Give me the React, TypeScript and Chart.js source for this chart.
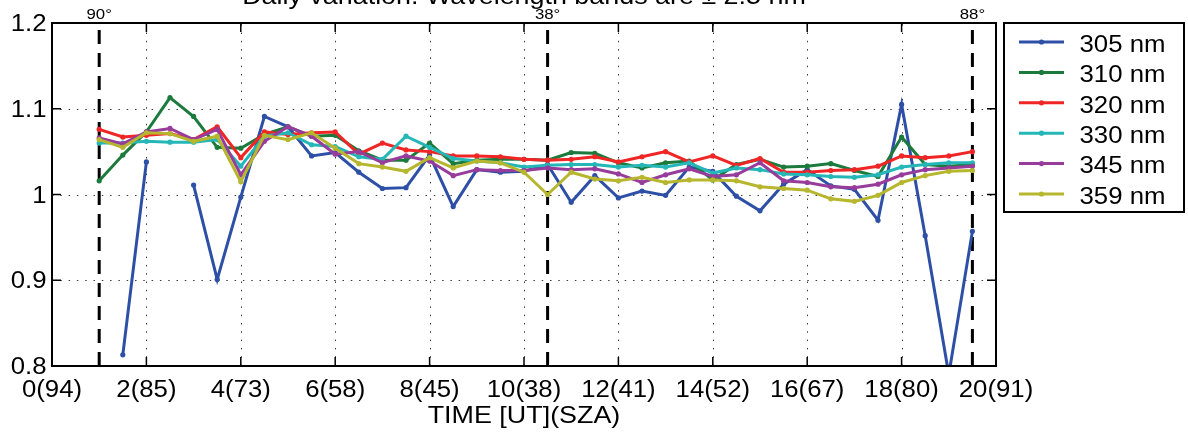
import React, { useEffect, useRef } from 'react';
import { Chart, registerables } from 'chart.js';

Chart.register(...registerables);

// ---------- data ----------
const hours = [
  1, 1.5, 2, 2.5, 3, 3.5, 4, 4.5, 5, 5.5, 6, 6.5, 7, 7.5, 8, 8.5, 9, 9.5, 10,
  10.5, 11, 11.5, 12, 12.5, 13, 13.5, 14, 14.5, 15, 15.5, 16, 16.5, 17, 17.5,
  18, 18.5, 19, 19.5,
];

const nm305 = [
  null, 0.813, 1.038, null, 1.011, 0.901, 0.997, 1.091, 1.079, 1.045, 1.049,
  1.026, 1.007, 1.008, 1.046, 0.986, 1.029, 1.026, 1.027, 1.035, 0.991, 1.022,
  0.996, 1.004, 0.999, 1.032, 1.027, 0.998, 0.981, 1.012, 1.029, 1.01, 1.006,
  0.97, 1.105, 0.952, 0.79, 0.957,
];
const nm310 = [
  1.016, 1.046, 1.073, 1.113, 1.091, 1.055, 1.054, 1.07, 1.079, 1.068, 1.069,
  1.051, 1.04, 1.04, 1.06, 1.036, 1.04, 1.041, 1.041, 1.04, 1.049, 1.048,
  1.037, 1.031, 1.037, 1.039, 1.017, 1.035, 1.041, 1.032, 1.033, 1.036, 1.028,
  1.021, 1.067, 1.035, 1.033, 1.035,
];
const nm320 = [
  1.076, 1.067, 1.069, 1.071, 1.064, 1.079, 1.043, 1.073, 1.07, 1.072, 1.073,
  1.047, 1.06, 1.052, 1.05, 1.045, 1.045, 1.044, 1.041, 1.04, 1.041, 1.044,
  1.038, 1.044, 1.05, 1.038, 1.045, 1.034, 1.042, 1.026, 1.026, 1.028, 1.029,
  1.033, 1.045, 1.043, 1.045, 1.05,
];
const nm330 = [
  1.06, 1.06, 1.062, 1.061, 1.061, 1.064, 1.033, 1.068, 1.072, 1.058, 1.056,
  1.044, 1.041, 1.068, 1.055, 1.042, 1.039, 1.037, 1.032, 1.034, 1.035, 1.035,
  1.032, 1.034, 1.032, 1.037, 1.025, 1.031, 1.029, 1.024, 1.023, 1.021, 1.02,
  1.023, 1.032, 1.035, 1.037, 1.037,
];
const nm345 = [
  1.066, 1.059, 1.073, 1.077, 1.064, 1.076, 1.023, 1.062, 1.079, 1.068, 1.047,
  1.05, 1.037, 1.045, 1.039, 1.022, 1.029, 1.028, 1.028, 1.031, 1.029, 1.03,
  1.024, 1.014, 1.023, 1.03, 1.021, 1.023, 1.037, 1.016, 1.014, 1.009, 1.008,
  1.012, 1.023, 1.029, 1.031, 1.033,
];
const nm359 = [
  1.064, 1.055, 1.072, 1.071, 1.062, 1.068, 1.015, 1.069, 1.064, 1.072, 1.054,
  1.036, 1.032, 1.027, 1.043, 1.031, 1.039, 1.037, 1.026, 1.0, 1.026, 1.018,
  1.016, 1.02, 1.014, 1.017, 1.017, 1.016, 1.009, 1.007, 1.005, 0.995, 0.992,
  0.999, 1.014, 1.022, 1.027, 1.028,
];

const seriesLabels = ['305 nm', '310 nm', '320 nm', '330 nm', '345 nm', '359 nm'];
const seriesValues = [nm305, nm310, nm320, nm330, nm345, nm359];
const seriesColors = ['#2d4fa6', '#1b7a3c', '#f02626', '#25b7b7', '#983c9c', '#b7b62f'];

const xTickValues = [0, 2, 4, 6, 8, 10, 12, 14, 16, 18, 20];
const xTickLabels = [
  '0(94)', '2(85)', '4(73)', '6(58)', '8(45)', '10(38)', '12(41)', '14(52)',
  '16(67)', '18(80)', '20(91)',
];
const yTickValues = [0.8, 0.9, 1.0, 1.1, 1.2];
const yTickLabels = ['0.8', '0.9', '1', '1.1', '1.2'];

const szaLineHours = [1, 10.5, 19.5];
const szaLineLabels = ['90°', '38°', '88°'];

const titleText = 'Daily variation. Wavelength bands are \u00b1 2.5 nm';
const xAxisTitle = 'TIME [UT](SZA)';

// ---------- drawing helpers ----------
const FONT = '"Liberation Sans", Arial, Helvetica, sans-serif';
const SX = 1.12;

function drawText(
  ctx: CanvasRenderingContext2D,
  s: string,
  x: number,
  y: number,
  size: number,
  align: CanvasTextAlign,
) {
  ctx.save();
  ctx.translate(x, y);
  ctx.scale(SX, 1);
  ctx.font = `${size}px ${FONT}`;
  ctx.textAlign = align;
  ctx.textBaseline = 'alphabetic';
  ctx.fillStyle = '#000';
  ctx.fillText(s, 0, 0);
  ctx.restore();
}

const decorPlugin = {
  id: 'decor',
  beforeDatasetsDraw(chart: any) {
    const { ctx, chartArea: a, scales } = chart;
    const xs = scales.x;
    const ys = scales.y;
    ctx.save();
    // dotted grid
    ctx.strokeStyle = '#3a3a3a';
    ctx.lineWidth = 1;
    ctx.setLineDash([1.5, 6.8]);
    xTickValues.forEach((v) => {
      if (v === xs.min || v === xs.max) return;
      const px = Math.round(xs.getPixelForValue(v)) + 0.5;
      ctx.beginPath();
      ctx.moveTo(px, a.bottom);
      ctx.lineTo(px, a.top);
      ctx.stroke();
    });
    yTickValues.forEach((v) => {
      if (Math.abs(v - ys.min) < 1e-9 || Math.abs(v - ys.max) < 1e-9) return;
      const py = Math.round(ys.getPixelForValue(v)) + 0.5;
      ctx.beginPath();
      ctx.moveTo(a.left, py);
      ctx.lineTo(a.right, py);
      ctx.stroke();
    });
    // SZA dashed lines
    ctx.strokeStyle = '#000';
    ctx.lineWidth = 3;
    ctx.setLineDash([14, 9]);
    szaLineHours.forEach((h) => {
      const px = xs.getPixelForValue(h);
      ctx.beginPath();
      ctx.moveTo(px, a.bottom);
      ctx.lineTo(px, a.top);
      ctx.stroke();
    });
    ctx.restore();
  },
  afterDraw(chart: any) {
    const { ctx, chartArea: a, scales } = chart;
    const xs = scales.x;
    const ys = scales.y;
    ctx.save();
    ctx.setLineDash([]);
    ctx.strokeStyle = '#000';
    // frame
    ctx.lineWidth = 2;
    ctx.strokeRect(a.left, a.top, a.right - a.left, a.bottom - a.top);
    // inward ticks
    const tl = 9;
    ctx.lineWidth = 1.5;
    xTickValues.forEach((v) => {
      const px = xs.getPixelForValue(v);
      ctx.beginPath();
      ctx.moveTo(px, a.bottom);
      ctx.lineTo(px, a.bottom - tl);
      ctx.moveTo(px, a.top);
      ctx.lineTo(px, a.top + tl);
      ctx.stroke();
    });
    yTickValues.forEach((v) => {
      const py = ys.getPixelForValue(v);
      ctx.beginPath();
      ctx.moveTo(a.left, py);
      ctx.lineTo(a.left + tl, py);
      ctx.moveTo(a.right, py);
      ctx.lineTo(a.right - tl, py);
      ctx.stroke();
    });
    ctx.restore();

    // tick labels
    xTickValues.forEach((v, i) => {
      drawText(ctx, xTickLabels[i], xs.getPixelForValue(v), a.bottom + 31, 23, 'center');
    });
    yTickValues.forEach((v, i) => {
      drawText(ctx, yTickLabels[i], a.left - 5.5, ys.getPixelForValue(v) + 8.2, 23, 'right');
    });
    // SZA labels
    szaLineHours.forEach((h, i) => {
      drawText(ctx, szaLineLabels[i], xs.getPixelForValue(h), 19, 15, 'center');
    });
    // axis title & chart title
    const cx = (a.left + a.right) / 2;
    drawText(ctx, xAxisTitle, cx, 423, 24, 'center');
    drawText(ctx, titleText, cx, 4, 24, 'center');

    // legend
    const lx = 1004;
    const ly = 23;
    const lw = 180;
    const lh = 189;
    ctx.save();
    ctx.fillStyle = '#fff';
    ctx.fillRect(lx, ly, lw, lh);
    ctx.strokeStyle = '#000';
    ctx.lineWidth = 2;
    ctx.strokeRect(lx, ly, lw, lh);
    chart.data.datasets.forEach((ds: any, i: number) => {
      const ry = 42 + i * 30.4;
      ctx.strokeStyle = ds.borderColor;
      ctx.lineWidth = 3;
      ctx.beginPath();
      ctx.moveTo(1019, ry);
      ctx.lineTo(1064, ry);
      ctx.stroke();
      ctx.fillStyle = ds.borderColor;
      ctx.beginPath();
      ctx.arc(1041.5, ry, 2.6, 0, Math.PI * 2);
      ctx.fill();
      drawText(ctx, ds.label, 1079.5, ry + 9.8, 23, 'left');
    });
    ctx.restore();
  },
};

export default function App() {
  const canvasRef = useRef<HTMLCanvasElement | null>(null);

  useEffect(() => {
    const canvas = canvasRef.current;
    if (!canvas) return;
    const datasets = seriesValues.map((vals, si) => ({
      label: seriesLabels[si],
      data: hours.map((h, i) => ({ x: h, y: vals[i] })),
      borderColor: seriesColors[si],
      backgroundColor: seriesColors[si],
      pointBackgroundColor: seriesColors[si],
      pointBorderWidth: 0,
      pointRadius: 2.6,
      borderWidth: 3,
      tension: 0,
      spanGaps: false,
      clip: 0,
      order: seriesValues.length - si,
    }));

    const chart = new Chart(canvas, {
      type: 'line',
      data: { datasets },
      options: {
        animation: false,
        responsive: false,
        devicePixelRatio: 1,
        events: [],
        layout: { padding: { left: 0, right: 192, top: 23, bottom: 0 } },
        plugins: {
          legend: { display: false },
          tooltip: { enabled: false },
          title: { display: false },
        },
        scales: {
          x: {
            type: 'linear',
            min: 0,
            max: 20,
            grid: { display: false },
            border: { display: false },
            ticks: { display: false },
            afterBuildTicks: (s: any) => {
              s.ticks = xTickValues.map((v) => ({ value: v }));
            },
            afterFit: (s: any) => {
              s.height = 68;
            },
          },
          y: {
            type: 'linear',
            min: 0.8,
            max: 1.2,
            grid: { display: false },
            border: { display: false },
            ticks: { display: false },
            afterBuildTicks: (s: any) => {
              s.ticks = yTickValues.map((v) => ({ value: v }));
            },
            afterFit: (s: any) => {
              s.width = 52;
            },
          },
        },
      },
      plugins: [decorPlugin],
    } as any);

    return () => chart.destroy();
  }, []);

  return (
    <div style={{ position: 'absolute', left: 0, top: 0, width: 1188, height: 434, background: '#fff' }}>
      <canvas ref={canvasRef} width={1188} height={434} style={{ display: 'block' }} />
    </div>
  );
}
